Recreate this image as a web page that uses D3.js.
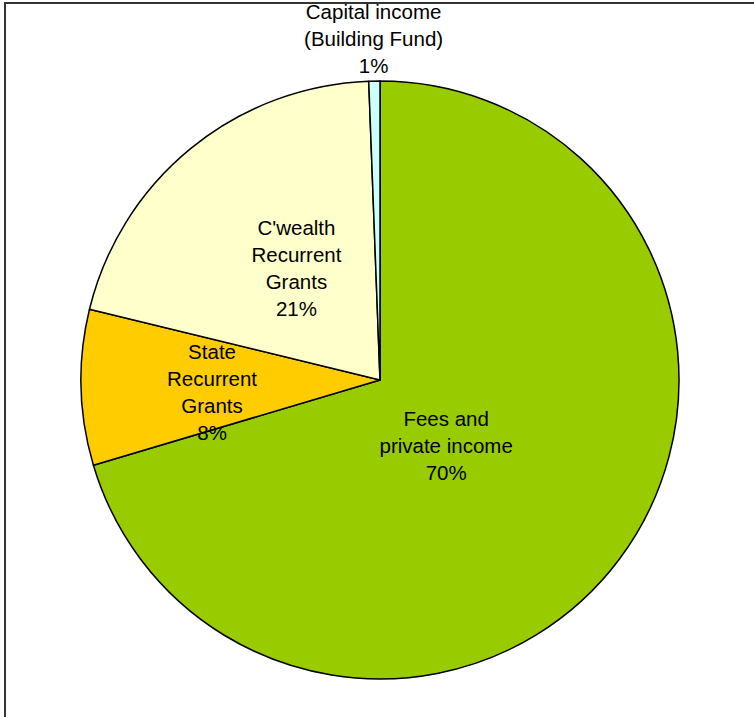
<!DOCTYPE html>
<html>
<head>
<meta charset="utf-8">
<script src="https://cdn.jsdelivr.net/npm/d3@7"></script>
<style>
  body { margin: 0; background: #fff; }
  svg text { font-family: "Liberation Sans", Arial, sans-serif; font-size: 20.5px; fill: #000; }
</style>
</head>
<body>
<div id="chart"></div>
<script>
// slice data, clockwise from 12 o'clock
const categories = ["Fees and private income", "State Recurrent Grants", "C'wealth Recurrent Grants", "Capital income (Building Fund)"];
const shares = [70.4, 8.4, 20.6, 0.6];
const labelLines = [
    ["Fees and", "private income", "70%"],
    ["State", "Recurrent", "Grants", "8%"],
    ["C'wealth", "Recurrent", "Grants", "21%"],
    ["Capital income", "(Building Fund)", "1%"]
];
const colors = ["#99CC00", "#FFCC00", "#FFFFCC", "#CCFFFF"];

const width = 754, height = 717;
const cx = 380, cy = 380, radius = 299;
// where each label block sits: distance from centre along the slice middle, plus a small nudge
const labelRadius = [95, 168, 140, 340];
const labelNudge = [[-10, 9], [0, 8], [5, -3], [0, -1]];
const lineHeight = 27;

const svg = d3.select("#chart")
    .append("svg")
    .attr("width", width)
    .attr("height", height);

// outer frame (only top and left edges fall inside the picture)
svg.append("rect")
    .attr("x", 5)
    .attr("y", 3)
    .attr("width", width + 20)
    .attr("height", height + 20)
    .attr("fill", "none")
    .attr("stroke", "#333")
    .attr("stroke-width", 2);

const data = categories.map((c, i) => ({ name: c, value: shares[i], idx: i }));

const pie = d3.pie()
    .sort(null)
    .value(d => d.value);

const arc = d3.arc()
    .innerRadius(0)
    .outerRadius(radius);

const g = svg.append("g")
    .attr("transform", `translate(${cx},${cy})`);

const arcs = pie(data);

g.selectAll("path")
    .data(arcs)
    .enter()
    .append("path")
    .attr("d", arc)
    .attr("fill", d => colors[d.data.idx])
    .attr("stroke", "#000")
    .attr("stroke-width", 1.5)
    .attr("stroke-linejoin", "round");

// labels
const labels = g.selectAll("text.label")
    .data(arcs)
    .enter()
    .append("text")
    .attr("class", "label")
    .attr("text-anchor", "middle")
    .attr("transform", d => {
        const a = (d.startAngle + d.endAngle) / 2;
        const r = labelRadius[d.data.idx];
        const [nx, ny] = labelNudge[d.data.idx];
        return `translate(${Math.sin(a) * r + nx},${-Math.cos(a) * r + ny})`;
    });

labels.each(function(d) {
    const lines = labelLines[d.data.idx];
    const top = -(lines.length - 1) * lineHeight / 2 + 7;
    d3.select(this).selectAll("tspan")
        .data(lines)
        .enter()
        .append("tspan")
        .attr("x", 0)
        .attr("y", (l, i) => top + i * lineHeight)
        .text(l => l);
});
</script>
</body>
</html>
